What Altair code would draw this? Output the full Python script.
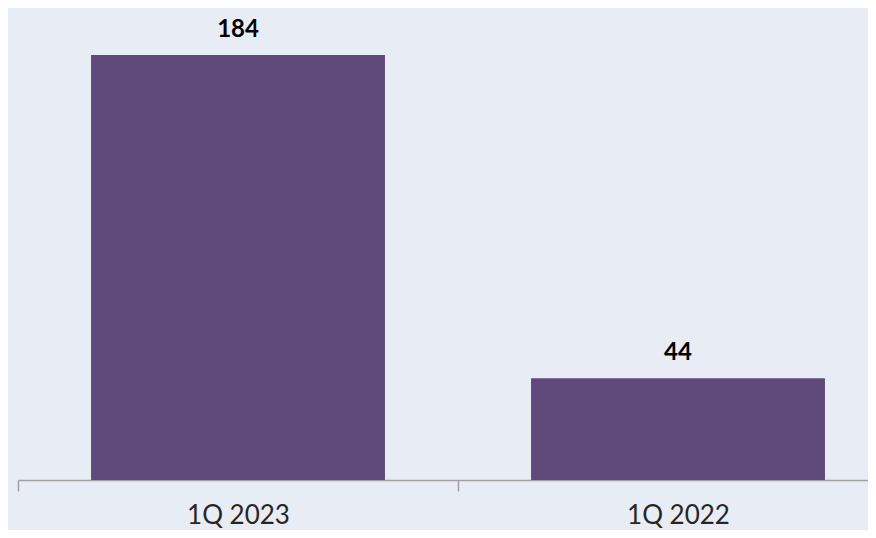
import altair as alt
import pandas as pd

categories = ["1Q 2023", "1Q 2022"]
values = [184, 44]
value_labels = ["184", "44"]

df = pd.DataFrame({"quarter": categories, "value": values, "label": value_labels})

x_enc = alt.X(
    "quarter:N",
    sort=categories,
    scale=alt.Scale(range=[0, 880], paddingInner=0, paddingOuter=0),
    axis=alt.Axis(
        title=None,
        labelAngle=0,
        labelFont="Lato",
        labelFontSize=26,
        labelColor="#262626",
        labelBaseline="alphabetic",
        labelPadding=32,
        tickSize=11,
        tickBand="extent",
        tickColor="#A0A0A0",
        tickWidth=1.5,
        domainColor="#A0A0A0",
        domainWidth=1.5,
        grid=False,
    ),
)
y_enc = alt.Y("value:Q", scale=alt.Scale(domain=[0, 200]), axis=None)

bars = alt.Chart(df).mark_bar(color="#604A7B", width={"band": 0.668}).encode(x=x_enc, y=y_enc)
text = alt.Chart(df).mark_text(
    dy=-18, baseline="alphabetic", fontSize=24, fontWeight="bold", font="Lato", color="#000000"
).encode(x=alt.X("quarter:N", sort=categories), y=y_enc, text="label:N")

chart = (bars + text).properties(
    width=850,
    height=462,
    background="#E8ECF5",
    padding={"left": 10, "top": 10, "right": 0, "bottom": 50},
    autosize=alt.AutoSizeParams(type="none"),
).configure_view(stroke=None)

chart.save("out.html", embed_options={"renderer": "svg", "actions": False})
